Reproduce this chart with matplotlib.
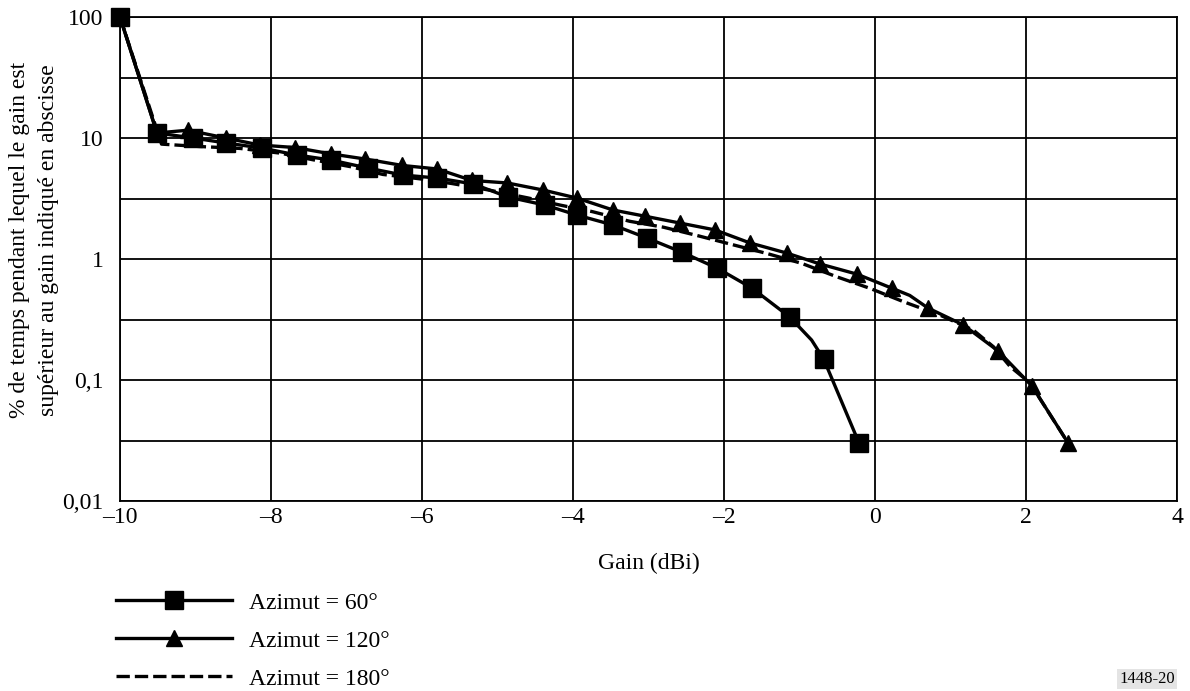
import matplotlib
matplotlib.use("Agg")
import matplotlib.pyplot as plt
from matplotlib.ticker import FixedLocator, FixedFormatter, NullFormatter
from matplotlib.lines import Line2D

plt.rcParams['font.family'] = ['Liberation Serif', 'DejaVu Serif']

# Azimut = 60 deg (squares); the vertex at -0.84 dBi carries no marker
gain_60 = [-10.0, -9.51, -9.03, -8.60, -8.12, -7.66, -7.21, -6.72, -6.25, -5.80,
           -5.32, -4.86, -4.37, -3.95, -3.47, -3.02, -2.56, -2.09, -1.63, -1.13,
           -0.84, -0.68, -0.21]
pct_60 = [100, 11.0, 10.0, 9.1, 8.26, 7.24, 6.58, 5.65, 4.94, 4.67,
          4.17, 3.25, 2.79, 2.31, 1.91, 1.49, 1.14, 0.84, 0.575, 0.332,
          0.214, 0.149, 0.03]
marks_60 = [i for i in range(len(gain_60)) if i != 20]

# Azimut = 120 deg (triangles); the vertex at 0.46 dBi carries no marker
gain_120 = [-10.0, -9.51, -9.10, -8.60, -8.15, -7.68, -7.20, -6.75, -6.26, -5.80,
            -5.34, -4.87, -4.40, -3.95, -3.47, -3.05, -2.58, -2.12, -1.66, -1.17,
            -0.73, -0.24, 0.22, 0.46, 0.70, 1.17, 1.63, 2.08, 2.56]
pct_120 = [100, 11.0, 11.6, 10.0, 8.75, 8.34, 7.38, 6.70, 5.93, 5.55,
           4.46, 4.25, 3.72, 3.19, 2.54, 2.26, 1.98, 1.74, 1.36, 1.12,
           0.91, 0.75, 0.575, 0.50, 0.394, 0.285, 0.174, 0.089, 0.03]
marks_120 = [i for i in range(len(gain_120)) if i != 23]

# Azimut = 180 deg (dashed, no markers)
gain_180 = [-10.0, -9.45, -8.94, -8.41, -7.88, -7.44, -6.95, -6.52, -6.03, -5.60,
            -5.10, -4.60, -4.17, -3.74, -3.25, -2.80, -2.35, -1.90, -1.43, -0.97,
            -0.51, -0.07, 0.38, 0.86, 1.30, 1.57, 1.79, 2.05, 2.56]
pct_180 = [100, 8.9, 8.5, 8.2, 7.5, 6.6, 5.8, 5.0, 4.6, 4.2,
           3.7, 3.2, 2.79, 2.46, 2.05, 1.83, 1.56, 1.32, 1.11, 0.92,
           0.714, 0.573, 0.443, 0.344, 0.259, 0.188, 0.129, 0.095, 0.03]

x_ticks = [-10, -8, -6, -4, -2, 0, 2, 4]
x_tick_labels = ['\u201310', '\u20138', '\u20136', '\u20134', '\u20132', '0', '2', '4']
y_ticks = [0.01, 0.1, 1, 10, 100]
y_tick_labels = ['0,01', '0,1', '1', '10', '100']
y_half_decades = [0.0316, 0.316, 3.16, 31.6]

series_labels = ['Azimut = 60\u00b0', 'Azimut = 120\u00b0', 'Azimut = 180\u00b0']

FS = 17
W, H = 1190, 691
fig = plt.figure(figsize=(W / 100, H / 100), dpi=100)
ax = fig.add_axes([120 / W, 1 - 501 / H, (1177 - 120) / W, (501 - 17) / H])

ax.set_yscale('log')
ax.set_xlim(-10, 4)
ax.set_ylim(0.01, 100)

ax.xaxis.set_major_locator(FixedLocator(x_ticks))
ax.xaxis.set_major_formatter(FixedFormatter(x_tick_labels))
ax.yaxis.set_major_locator(FixedLocator(y_ticks))
ax.yaxis.set_major_formatter(FixedFormatter(y_tick_labels))
ax.yaxis.set_minor_locator(FixedLocator(y_half_decades))
ax.yaxis.set_minor_formatter(NullFormatter())

ax.grid(which='both', color='black', linewidth=1.3)
ax.tick_params(which='both', length=0, labelsize=FS, colors='black')
ax.tick_params(axis='x', pad=4)
ax.tick_params(axis='y', pad=12)
for s in ax.spines.values():
    s.set_linewidth(1.3)
    s.set_color('black')

lw = 2.4
dash = (0, (4.0, 1.5))
ax.plot(gain_180, pct_180, color='black', lw=lw, linestyle=dash,
        clip_on=False, zorder=3)
ax.plot(gain_120, pct_120, color='black', lw=lw, marker='^', markersize=12,
        markevery=marks_120, clip_on=False, zorder=4)
ax.plot(gain_60, pct_60, color='black', lw=lw, marker='s', markersize=13,
        markevery=marks_60, clip_on=False, zorder=5)

fig.text(34 / W, 1 - 240 / H,
         '% de temps pendant lequel le gain est\nsupérieur au gain indiqué en abscisse',
         rotation=90, ha='center', va='center', multialignment='center',
         fontsize=FS, linespacing=1.45)
fig.text(648.5 / W, 1 - 563 / H, 'Gain (dBi)', ha='center', va='center', fontsize=FS)

handles = [
    Line2D([], [], color='black', lw=lw, marker='s', markersize=13),
    Line2D([], [], color='black', lw=lw, marker='^', markersize=12),
    Line2D([], [], color='black', lw=lw, linestyle=dash),
]
fig.legend(handles, series_labels, loc='upper left',
           bbox_to_anchor=(116 / W, 1 - 592 / H), frameon=False, fontsize=FS,
           handlelength=4.9, handletextpad=0.72, labelspacing=0.7,
           borderpad=0, borderaxespad=0, numpoints=1)

fig.text(1147 / W, 1 - 679 / H, '1448-20', ha='center', va='center', fontsize=12,
         bbox=dict(facecolor='#e4e4e4', edgecolor='none', pad=1.5))

fig.savefig('out.png', dpi=100)
